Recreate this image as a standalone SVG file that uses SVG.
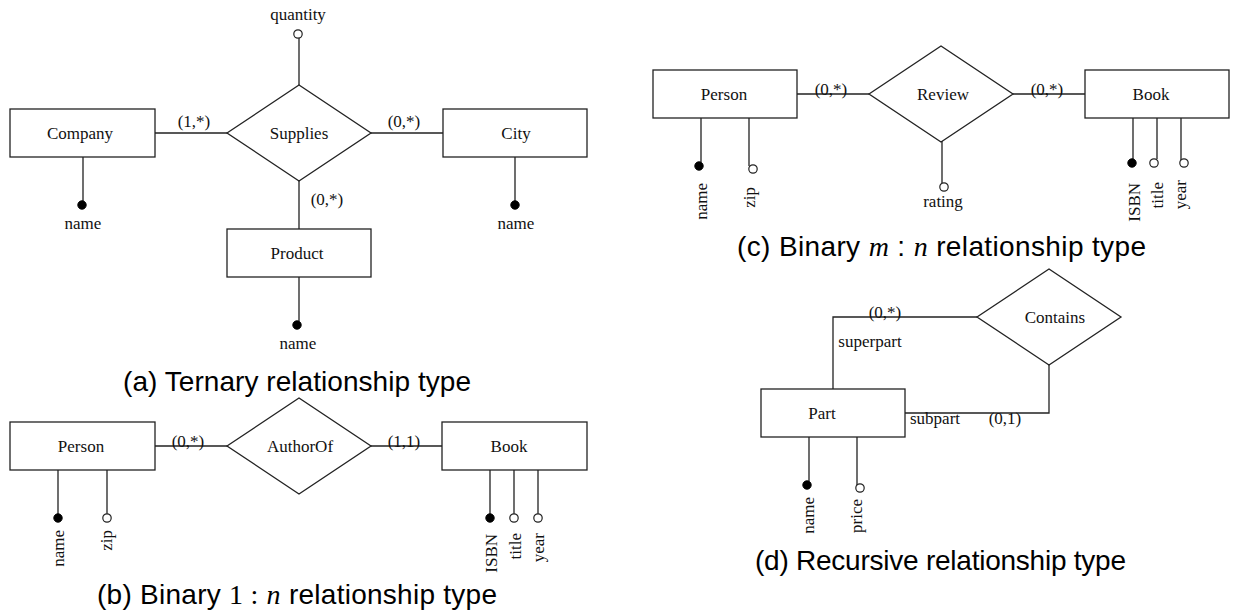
<svg xmlns="http://www.w3.org/2000/svg" width="1233" height="615" viewBox="0 0 1233 615">
<style>
.box{fill:#fff;stroke:#222;stroke-width:1.3}
.ln{fill:none;stroke:#222;stroke-width:1.3}
.t{font-family:"Liberation Serif","Times New Roman",serif;font-size:17px;fill:#111}
.c{text-anchor:middle}
.e{text-anchor:end}
.k{fill:#000;stroke:#000;stroke-width:1}
.o{fill:#fff;stroke:#222;stroke-width:1.2}
.cap{font-family:"Liberation Sans",Arial,sans-serif;font-size:28px;fill:#000}
.m{font-family:"Liberation Serif","Times New Roman",serif}
.mi{font-family:"Liberation Serif","Times New Roman",serif;font-style:italic}
</style>
<rect width="1233" height="615" fill="#fff"/>

<!-- connectors -->
<g id="connectors">
  <!-- (a) -->
  <path class="ln" d="M155,133H227 M371,133H443 M299,181V229 M299,38V85"/>
  <path class="ln" d="M83,157V201 M515,157V201 M299,277V321"/>
  <!-- (b) -->
  <path class="ln" d="M155,446H227 M371,446H442"/>
  <path class="ln" d="M58,470V514 M107,470V514 M490,470V514 M514,470V514 M538,470V514"/>
  <!-- (c) -->
  <path class="ln" d="M797,94H869 M1013,94H1085 M942,137V183"/>
  <path class="ln" d="M701,118V162 M749,118V166 M1133,118V159 M1157,118V159 M1181,118V160"/>
  <!-- (d) -->
  <path class="ln" d="M977,317H833V389 M905,413H1049V365"/>
  <path class="ln" d="M809,437V481 M857,437V485"/>
</g>

<!-- attribute markers -->
<g id="attr-circles">
  <circle class="o" cx="298" cy="34" r="4.2"/>
  <circle class="k" cx="82" cy="205" r="4.2"/>
  <circle class="k" cx="515" cy="205" r="4.2"/>
  <circle class="k" cx="297" cy="325" r="4.2"/>
  <circle class="k" cx="58" cy="518" r="4.2"/>
  <circle class="o" cx="107" cy="518" r="4.2"/>
  <circle class="k" cx="490" cy="518" r="4.2"/>
  <circle class="o" cx="514" cy="518" r="4.2"/>
  <circle class="o" cx="538" cy="518" r="4.2"/>
  <circle class="k" cx="699" cy="166" r="4.2"/>
  <circle class="o" cx="753" cy="169" r="4.2"/>
  <circle class="o" cx="944" cy="187" r="4.2"/>
  <circle class="k" cx="1132" cy="163" r="4.2"/>
  <circle class="o" cx="1154" cy="163" r="4.2"/>
  <circle class="o" cx="1184" cy="163" r="4.2"/>
  <circle class="k" cx="807" cy="485" r="4.2"/>
  <circle class="o" cx="860" cy="488" r="4.2"/>
</g>

<!-- (a) Ternary -->
<g id="a-company"><rect class="box" x="10" y="109" width="145" height="48"/><text class="t c" x="80" y="139">Company</text></g>
<g id="a-supplies"><polygon class="box" points="227,133 299,85 371,133 299,181"/><text class="t c" x="299" y="139">Supplies</text></g>
<g id="a-city"><rect class="box" x="443" y="109" width="144" height="48"/><text class="t c" x="516" y="139">City</text></g>
<g id="a-product"><rect class="box" x="227" y="229" width="144" height="48"/><text class="t c" x="297" y="259">Product</text></g>
<g id="a-labels">
  <text class="t c" x="298" y="20">quantity</text>
  <text class="t c" x="194" y="127">(1,*)</text>
  <text class="t c" x="404" y="127">(0,*)</text>
  <text class="t c" x="327" y="205">(0,*)</text>
  <text class="t c" x="83" y="229">name</text>
  <text class="t c" x="516" y="229">name</text>
  <text class="t c" x="298" y="349">name</text>
</g>
<text class="cap" x="123" y="391" textLength="348" lengthAdjust="spacing">(a) Ternary relationship type</text>

<!-- (b) Binary 1:n -->
<g id="b-person"><rect class="box" x="10" y="422" width="145" height="48"/><text class="t c" x="81" y="452">Person</text></g>
<g id="b-authorof"><polygon class="box" points="227,446 299,398 371,446 299,494"/><text class="t c" x="300" y="452">AuthorOf</text></g>
<g id="b-book"><rect class="box" x="442" y="422" width="145" height="48"/><text class="t c" x="509" y="452">Book</text></g>
<g id="b-labels">
  <text class="t c" x="188" y="447">(0,*)</text>
  <text class="t c" x="404" y="447">(1,1)</text>
  <text class="t e" transform="translate(64,530) rotate(-90)">name</text>
  <text class="t e" transform="translate(112,530) rotate(-90)">zip</text>
  <text class="t e" transform="translate(497,534) rotate(-90)">ISBN</text>
  <text class="t e" transform="translate(521,533) rotate(-90)">title</text>
  <text class="t e" transform="translate(544,533) rotate(-90)">year</text>
</g>
<text class="cap" x="97" y="604" textLength="400" lengthAdjust="spacing">(b) Binary <tspan class="m">1 :</tspan> <tspan class="mi">n</tspan> relationship type</text>

<!-- (c) Binary m:n -->
<g id="c-person"><rect class="box" x="653" y="70" width="144" height="48"/><text class="t c" x="724" y="100">Person</text></g>
<g id="c-review"><polygon class="box" points="869,94 941,46 1013,94 941,142"/><text class="t c" x="943" y="100">Review</text></g>
<g id="c-book"><rect class="box" x="1085" y="70" width="144" height="48"/><text class="t c" x="1151" y="100">Book</text></g>
<g id="c-labels">
  <text class="t c" x="831" y="95">(0,*)</text>
  <text class="t c" x="1047" y="95">(0,*)</text>
  <text class="t c" x="943" y="207">rating</text>
  <text class="t e" transform="translate(707,183) rotate(-90)">name</text>
  <text class="t e" transform="translate(755,187) rotate(-90)">zip</text>
  <text class="t e" transform="translate(1140,183) rotate(-90)">ISBN</text>
  <text class="t e" transform="translate(1163,182) rotate(-90)">title</text>
  <text class="t e" transform="translate(1186,180) rotate(-90)">year</text>
</g>
<text class="cap" x="737" y="256" textLength="409" lengthAdjust="spacing">(c) Binary <tspan class="mi">m</tspan> : <tspan class="mi">n</tspan> relationship type</text>

<!-- (d) Recursive -->
<g id="d-contains"><polygon class="box" points="977,317 1049,269 1121,317 1049,365"/><text class="t c" x="1055" y="323">Contains</text></g>
<g id="d-part"><rect class="box" x="761" y="389" width="144" height="48"/><text class="t c" x="822" y="419">Part</text></g>
<g id="d-labels">
  <text class="t c" x="885" y="318">(0,*)</text>
  <text class="t c" x="870" y="347">superpart</text>
  <text class="t c" x="935" y="424">subpart</text>
  <text class="t c" x="1005" y="424">(0,1)</text>
  <text class="t e" transform="translate(814,497) rotate(-90)">name</text>
  <text class="t e" transform="translate(862,499) rotate(-90)">price</text>
</g>
<text class="cap" x="755" y="570" textLength="371" lengthAdjust="spacing">(d) Recursive relationship type</text>
</svg>
